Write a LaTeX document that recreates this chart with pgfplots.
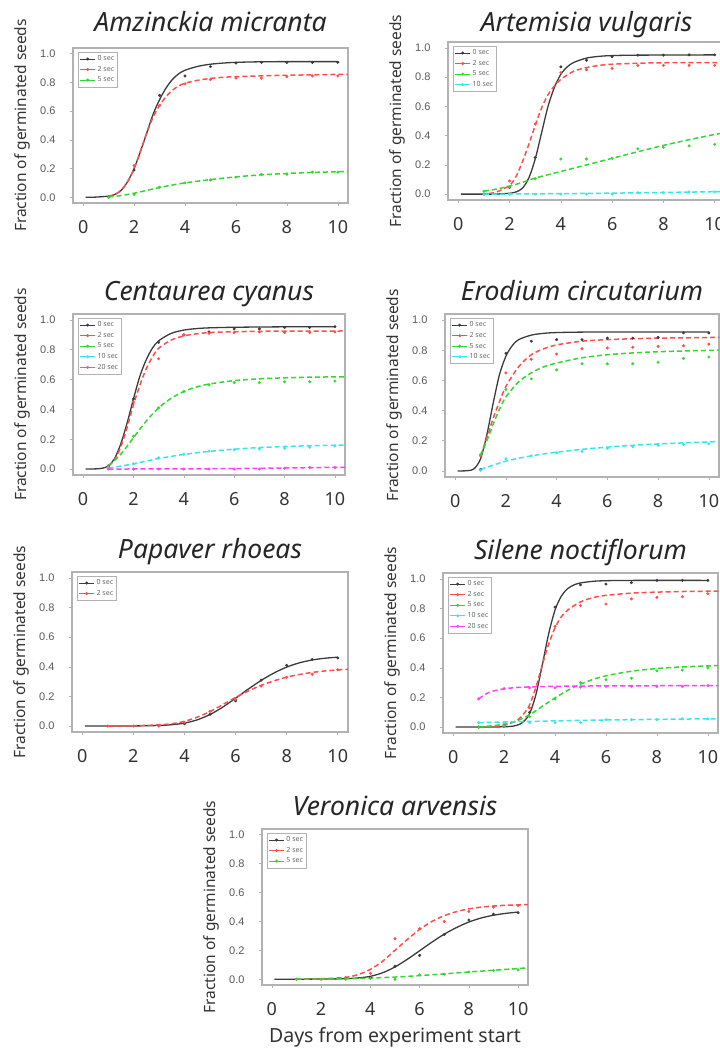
\documentclass[border=0pt]{standalone}
\usepackage{fontspec}
\setmainfont{Noto Sans}
\newfontfamily\tickfont{Liberation Sans}
\usepackage{pgfplots}
\pgfplotsset{compat=1.18}

\definecolor{c0}{HTML}{3C3C3C}
\definecolor{c2}{HTML}{FF4D4D}
\definecolor{c5}{HTML}{33D633}
\definecolor{c10}{HTML}{33E8E8}
\definecolor{c20}{HTML}{FF40FF}

\pgfplotsset{
  panel/.style={
    scale only axis,
    xmin=-0.4, xmax=10.4, ymin=-0.04, ymax=1.04,
    xtick={0,2,4,6,8,10}, ytick={0,0.2,0.4,0.6,0.8,1},
    xtick pos=lower, ytick pos=left,
    tick align=outside, major tick length=3pt,
    tick style={gray!60, line width=0.6pt},
    axis line style={gray!60, line width=1.2pt},
    /pgf/number format/assume math mode=true,
    xticklabel style={font=\fontsize{18}{18}\selectfont, text=black!80, yshift=-11pt},
    yticklabel style={font=\tickfont\fontsize{11}{11}\selectfont, text=black!65, xshift=-11pt,
      /pgf/number format/fixed, /pgf/number format/fixed zerofill, /pgf/number format/precision=1},
    ylabel={Fraction of germinated seeds},
    every axis y label/.style={at={([xshift=-51pt]axis description cs:0,0.5)}, rotate=90, anchor=center,
      font=\fontsize{15.5}{15.5}\selectfont, text=black!80},
    title style={at={(axis description cs:0.5,1)}, anchor=base,
      font=\fontsize{26.5}{26.5}\selectfont\itshape, text=black!85},
    legend style={at={(axis description cs:0.018,0.975)}, anchor=north west,
      font=\fontsize{7}{7}\selectfont, text=black!60, draw=gray!60, line width=0.6pt,
      inner sep=1.5pt, row sep=0pt, cells={anchor=west}},
    legend image code/.code={\draw[#1,solid,line width=0.9pt] (0pt,0pt) -- (15pt,0pt);
      \fill[#1] (7.5pt,0pt) circle (1.2pt);},
  },
  fit0/.style={c0, line width=1.3pt, smooth, no markers, forget plot},
  fitd/.style={line width=1.5pt, dash pattern=on 5pt off 3pt, smooth, no markers, forget plot},
  obs/.style={only marks, mark=*, mark size=1.3pt, forget plot},
}
\newcommand{\leg}[2]{\addlegendimage{#1}\addlegendentry{#2}}

\begin{document}
\begin{tikzpicture}[x=1pt,y=1pt]
\path[use as bounding box] (0,0) rectangle (720,1050);

% Amzinckia micranta
\begin{axis}[panel, at={(73pt,847pt)}, anchor=south west, width=275pt, height=155pt,
  title={Amzinckia micranta}, title style={yshift=10pt}]
\leg{c0}{0 sec}\leg{c2}{2 sec}\leg{c5}{5 sec}
\addplot[fit0] coordinates {(0.1,0)(0.5,0.001)(1,0.008)(1.25,0.02)(1.5,0.05)(1.75,0.11)(2,0.2)(2.25,0.32)(2.5,0.45)(2.75,0.58)(3,0.68)(3.25,0.76)(3.5,0.82)(3.75,0.86)(4,0.885)(4.5,0.912)(5,0.927)(5.5,0.935)(6,0.94)(7,0.944)(8,0.945)(10,0.945)};
\addplot[obs, c0] coordinates {(1,0)(2,0.19)(3,0.71)(4,0.845)(5,0.91)(6,0.935)(7,0.94)(8,0.94)(9,0.94)(10,0.94)};
\addplot[fitd, c2] coordinates {(1,0.008)(1.25,0.02)(1.5,0.05)(1.75,0.11)(2,0.2)(2.25,0.32)(2.5,0.45)(2.75,0.56)(3,0.64)(3.25,0.7)(3.5,0.745)(3.75,0.775)(4,0.795)(4.5,0.815)(5,0.828)(5.5,0.836)(6,0.84)(7,0.846)(8,0.85)(9,0.853)(10.4,0.857)};
\addplot[obs, c2] coordinates {(1,0)(2,0.22)(3,0.64)(4,0.79)(5,0.82)(6,0.83)(7,0.83)(8,0.84)(9,0.845)(10,0.845)};
\addplot[fitd, c5] coordinates {(1,0.002)(1.5,0.012)(2,0.028)(2.5,0.048)(3,0.068)(3.5,0.085)(4,0.1)(5,0.123)(6,0.142)(7,0.156)(8,0.166)(9,0.173)(10.4,0.18)};
\addplot[obs, c5] coordinates {(1,0)(2,0.02)(3,0.07)(4,0.1)(5,0.12)(6,0.14)(7,0.16)(8,0.16)(9,0.175)(10,0.175)};
\end{axis}

% Artemisia vulgaris
\begin{axis}[panel, at={(448pt,850pt)}, anchor=south west, width=277pt, height=158pt,
  title={Artemisia vulgaris}, title style={yshift=4pt}]
\leg{c0}{0 sec}\leg{c2}{2 sec}\leg{c5}{5 sec}\leg{c10}{10 sec}
\addplot[fit0] coordinates {(0.1,0)(1,0)(1.5,0.001)(2,0.006)(2.25,0.015)(2.5,0.04)(2.75,0.11)(3,0.24)(3.25,0.42)(3.5,0.6)(3.75,0.73)(4,0.82)(4.25,0.87)(4.5,0.9)(5,0.93)(5.5,0.942)(6,0.947)(7,0.95)(10,0.952)};
\addplot[obs, c0] coordinates {(1,0)(2,0.045)(3,0.25)(4,0.87)(5,0.915)(6,0.94)(7,0.95)(8,0.95)(9,0.952)(10,0.952)};
\addplot[fitd, c2] coordinates {(1.2,0.005)(1.5,0.015)(2,0.06)(2.25,0.12)(2.5,0.22)(2.75,0.34)(3,0.47)(3.25,0.59)(3.5,0.68)(3.75,0.74)(4,0.785)(4.5,0.84)(5,0.865)(5.5,0.88)(6,0.888)(7,0.895)(8,0.898)(10.4,0.9)};
\addplot[obs, c2] coordinates {(2,0.09)(3,0.48)(4,0.83)(5,0.85)(6,0.86)(7,0.88)(8,0.88)(9,0.88)(10,0.88)};
\addplot[fitd, c5] coordinates {(1,0.02)(1.5,0.035)(2,0.055)(2.5,0.08)(3,0.11)(4,0.155)(5,0.2)(6,0.245)(7,0.29)(8,0.333)(9,0.372)(10,0.408)(10.4,0.42)};
\addplot[obs, c5] coordinates {(1,0.02)(2,0.05)(3,0.105)(4,0.24)(5,0.24)(6,0.245)(7,0.31)(8,0.32)(9,0.33)(10,0.34)};
\addplot[fitd, c10] coordinates {(1,0)(3,0.002)(5,0.005)(7,0.009)(9,0.014)(10.4,0.018)};
\addplot[obs, c10] coordinates {(1,0)(2,0)(3,0)(4,0)(5,0)(6,0)(7,0.01)(8,0.01)(9,0.015)(10,0.015)};
\end{axis}

% Centaurea cyanus
\begin{axis}[panel, at={(73pt,575pt)}, anchor=south west, width=272pt, height=161pt,
  title={Centaurea cyanus}, title style={yshift=7pt}]
\leg{c0}{0 sec}\leg{c2}{2 sec}\leg{c5}{5 sec}\leg{c10}{10 sec}\leg{c20}{20 sec}
\addplot[fit0] coordinates {(0.1,0)(0.5,0.001)(0.75,0.005)(1,0.02)(1.25,0.07)(1.5,0.17)(1.75,0.31)(2,0.47)(2.25,0.62)(2.5,0.73)(2.75,0.81)(3,0.86)(3.5,0.91)(4,0.932)(4.5,0.942)(5,0.947)(6,0.951)(8,0.954)(10,0.955)};
\addplot[obs, c0] coordinates {(1,0.02)(2,0.47)(3,0.85)(4,0.9)(5,0.92)(6,0.94)(7,0.94)(8,0.95)(9,0.95)(10,0.955)};
\addplot[fitd, c2] coordinates {(1,0.02)(1.25,0.06)(1.5,0.15)(1.75,0.28)(2,0.43)(2.25,0.56)(2.5,0.67)(2.75,0.75)(3,0.81)(3.5,0.865)(4,0.893)(4.5,0.907)(5,0.915)(6,0.921)(7,0.924)(8,0.925)(10.4,0.926)};
\addplot[obs, c2] coordinates {(1,0.02)(2,0.45)(3,0.74)(4,0.9)(5,0.91)(6,0.915)(7,0.92)(8,0.915)(9,0.915)(10,0.92)};
\addplot[fitd, c5] coordinates {(1,0.02)(1.5,0.1)(2,0.21)(2.5,0.32)(3,0.41)(3.5,0.475)(4,0.52)(4.5,0.55)(5,0.57)(6,0.593)(7,0.605)(8,0.612)(9,0.616)(10.4,0.619)};
\addplot[obs, c5] coordinates {(1,0.01)(2,0.22)(3,0.41)(4,0.52)(5,0.565)(6,0.58)(7,0.58)(8,0.585)(9,0.585)(10,0.59)};
\addplot[fitd, c10] coordinates {(1,0.005)(2,0.035)(3,0.07)(4,0.098)(5,0.118)(6,0.133)(7,0.144)(8,0.151)(9,0.156)(10.4,0.161)};
\addplot[obs, c10] coordinates {(1,0.005)(2,0.035)(3,0.075)(4,0.1)(5,0.12)(6,0.13)(7,0.135)(8,0.14)(9,0.145)(10,0.155)};
\addplot[fitd, c20] coordinates {(1,0)(4,0.001)(6,0.003)(8,0.007)(10.4,0.012)};
\addplot[obs, c20] coordinates {(1,0)(2,0)(3,0)(4,0)(5,0)(6,0)(7,0)(8,0.005)(9,0.01)(10,0.01)};
\end{axis}

% Erodium circutarium
\begin{axis}[panel, at={(445pt,573pt)}, anchor=south west, width=274pt, height=163pt,
  title={Erodium circutarium}, title style={yshift=7pt}]
\leg{c0}{0 sec}\leg{c2}{2 sec}\leg{c5}{5 sec}\leg{c10}{10 sec}
\addplot[fit0] coordinates {(0.1,0)(0.5,0.002)(0.75,0.015)(1,0.08)(1.25,0.24)(1.5,0.45)(1.75,0.64)(2,0.76)(2.25,0.83)(2.5,0.87)(3,0.9)(3.5,0.912)(4,0.917)(5,0.92)(7,0.921)(10,0.921)};
\addplot[obs, c0] coordinates {(1,0.01)(2,0.78)(3,0.86)(4,0.87)(5,0.87)(6,0.88)(7,0.88)(8,0.885)(9,0.915)(10,0.915)};
\addplot[fitd, c2] coordinates {(1,0.1)(1.25,0.22)(1.5,0.35)(1.75,0.46)(2,0.56)(2.5,0.69)(3,0.77)(3.5,0.81)(4,0.835)(5,0.86)(6,0.87)(7,0.876)(8,0.88)(9,0.882)(10.4,0.885)};
\addplot[obs, c2] coordinates {(1,0.1)(2,0.65)(3,0.74)(4,0.775)(5,0.81)(6,0.815)(7,0.82)(8,0.825)(9,0.83)(10,0.84)};
\addplot[fitd, c5] coordinates {(1,0.1)(1.25,0.2)(1.5,0.31)(1.75,0.41)(2,0.49)(2.5,0.59)(3,0.65)(3.5,0.69)(4,0.715)(5,0.75)(6,0.77)(7,0.782)(8,0.79)(9,0.795)(10.4,0.8)};
\addplot[obs, c5] coordinates {(1,0.11)(2,0.54)(3,0.61)(4,0.67)(5,0.71)(6,0.71)(7,0.71)(8,0.72)(9,0.745)(10,0.755)};
\addplot[fitd, c10] coordinates {(1,0.01)(2,0.065)(3,0.1)(4,0.124)(5,0.143)(6,0.158)(7,0.17)(8,0.179)(9,0.186)(10.4,0.195)};
\addplot[obs, c10] coordinates {(1,0.005)(2,0.08)(3,0.1)(4,0.12)(5,0.13)(6,0.15)(7,0.16)(8,0.17)(9,0.175)(10,0.18)};
\end{axis}

% Papaver rhoeas
\begin{axis}[panel, at={(72pt,318pt)}, anchor=south west, width=276pt, height=160pt,
  title={Papaver rhoeas}, title style={yshift=7pt}]
\leg{c0}{0 sec}\leg{c2}{2 sec}
\addplot[fit0] coordinates {(0.1,0)(2,0.001)(3,0.004)(3.5,0.009)(4,0.02)(4.5,0.042)(5,0.078)(5.5,0.128)(6,0.188)(6.5,0.25)(7,0.308)(7.5,0.358)(8,0.398)(8.5,0.427)(9,0.446)(9.5,0.458)(10,0.465)};
\addplot[obs, c0] coordinates {(4,0.015)(5,0.08)(6,0.17)(7,0.31)(8,0.41)(9,0.45)(10,0.46)};
\addplot[fitd, c2] coordinates {(1,0)(2,0.002)(3,0.008)(3.5,0.016)(4,0.032)(4.5,0.06)(5,0.098)(5.5,0.145)(6,0.193)(6.5,0.237)(7,0.275)(7.5,0.305)(8,0.33)(8.5,0.348)(9,0.362)(9.5,0.372)(10,0.379)(10.4,0.383)};
\addplot[obs, c2] coordinates {(1,0)(2,0)(3,0)(4,0.025)(5,0.1)(6,0.18)(7,0.27)(8,0.33)(9,0.35)(10,0.38)};
\end{axis}

% Silene noctiflorum
\begin{axis}[panel, at={(443pt,317pt)}, anchor=south west, width=275pt, height=160pt,
  title={Silene noctiflorum}, title style={yshift=7pt}]
\leg{c0}{0 sec}\leg{c2}{2 sec}\leg{c5}{5 sec}\leg{c10}{10 sec}\leg{c20}{20 sec}
\addplot[fit0] coordinates {(0.1,0)(2,0.002)(2.5,0.012)(2.75,0.035)(3,0.09)(3.25,0.22)(3.5,0.42)(3.75,0.63)(4,0.79)(4.25,0.885)(4.5,0.935)(4.75,0.96)(5,0.973)(5.5,0.984)(6,0.988)(7,0.99)(10,0.99)};
\addplot[obs, c0] coordinates {(1,0)(2,0.005)(3,0.1)(4,0.81)(5,0.96)(6,0.965)(7,0.975)(8,0.99)(9,0.99)(10,0.99)};
\addplot[fitd, c2] coordinates {(1,0.001)(1.5,0.004)(2,0.012)(2.5,0.045)(2.75,0.085)(3,0.15)(3.25,0.27)(3.5,0.42)(3.75,0.56)(4,0.67)(4.25,0.745)(4.5,0.79)(5,0.845)(5.5,0.874)(6,0.889)(7,0.904)(8,0.911)(9,0.915)(10.4,0.918)};
\addplot[obs, c2] coordinates {(2,0.01)(3,0.13)(4,0.68)(5,0.82)(6,0.83)(7,0.865)(8,0.875)(9,0.88)(10,0.9)};
\addplot[fitd, c5] coordinates {(1,0.002)(1.5,0.008)(2,0.02)(2.5,0.042)(3,0.083)(3.5,0.14)(4,0.197)(4.5,0.248)(5,0.29)(5.5,0.322)(6,0.346)(7,0.377)(8,0.395)(9,0.406)(10.4,0.415)};
\addplot[obs, c5] coordinates {(1,0)(2,0.005)(3,0.07)(4,0.19)(5,0.3)(6,0.32)(7,0.33)(8,0.38)(9,0.385)(10,0.4)};
\addplot[fitd, c10] coordinates {(1,0.03)(3,0.038)(5,0.045)(7,0.05)(9,0.054)(10.4,0.056)};
\addplot[obs, c10] coordinates {(1,0.03)(2,0.03)(3,0.03)(4,0.03)(5,0.03)(6,0.05)(7,0.05)(8,0.05)(9,0.055)(10,0.055)};
\addplot[fitd, c20] coordinates {(1,0.19)(1.25,0.22)(1.5,0.24)(2,0.258)(2.5,0.267)(3,0.271)(4,0.275)(6,0.278)(8,0.279)(10.4,0.28)};
\addplot[obs, c20] coordinates {(1,0.19)(2,0.26)(3,0.265)(4,0.265)(5,0.27)(6,0.275)(7,0.275)(8,0.275)(9,0.275)(10,0.28)};
\end{axis}

% Veronica arvensis
\begin{axis}[panel, at={(262pt,65pt)}, anchor=south west, width=266pt, height=156pt,
  title={Veronica arvensis}, title style={yshift=7pt},
  xlabel={Days from experiment start},
  xlabel style={at={(axis description cs:0.5,0)}, anchor=center, yshift=-52pt,
    font=\fontsize{19.5}{19.5}\selectfont, text=black!80}]
\leg{c0}{0 sec}\leg{c2}{2 sec}\leg{c5}{5 sec}
\addplot[fit0] coordinates {(0.1,0)(2,0.001)(3,0.004)(3.5,0.009)(4,0.02)(4.5,0.045)(5,0.085)(5.5,0.138)(6,0.197)(6.5,0.257)(7,0.312)(7.5,0.358)(8,0.396)(8.5,0.424)(9,0.443)(9.5,0.456)(10,0.465)};
\addplot[obs, c0] coordinates {(4,0.01)(5,0.09)(6,0.165)(7,0.31)(8,0.41)(9,0.45)(10,0.46)};
\addplot[fitd, c2] coordinates {(1,0)(2,0.003)(3,0.013)(3.5,0.032)(4,0.068)(4.5,0.125)(5,0.2)(5.5,0.275)(6,0.345)(6.5,0.4)(7,0.44)(7.5,0.468)(8,0.487)(8.5,0.499)(9,0.507)(9.5,0.512)(10,0.515)(10.4,0.517)};
\addplot[obs, c2] coordinates {(1,0)(2,0)(3,0.01)(4,0.04)(5,0.28)(6,0.35)(7,0.4)(8,0.47)(9,0.5)(10,0.51)};
\addplot[fitd, c5] coordinates {(1,0)(2,0.001)(3,0.003)(4,0.008)(5,0.015)(6,0.025)(7,0.037)(8,0.05)(9,0.062)(10,0.074)(10.4,0.079)};
\addplot[obs, c5] coordinates {(1,0)(2,0)(3,0)(4,0.005)(5,0)(6,0.03)(7,0.035)(8,0.05)(9,0.06)(10,0.065)};
\end{axis}
\end{tikzpicture}
\end{document}
